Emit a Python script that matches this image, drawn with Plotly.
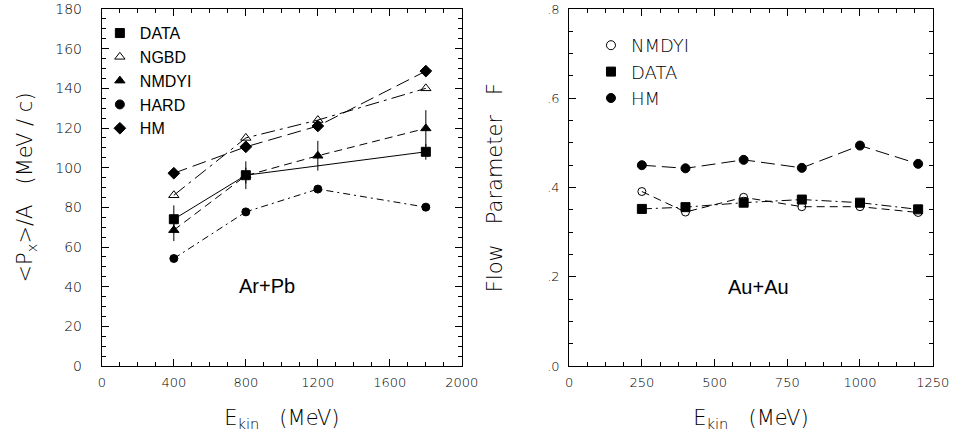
import plotly.graph_objects as go

# ---- Left panel (Ar+Pb) data ----
e_left = [400, 800, 1200, 1800]
data_e = [400, 800, 1800]
data_px = [74.0, 96.2, 108.0]
data_err = [7.0, 7.0, 4.0]
ngbd_px = [86.1, 115.0, 124.0, 140.0]
nmdyi_px = [68.5, 96.0, 106.0, 119.8]
nmdyi_err = [5.5, 4.0, 7.5, 9.2]
hard_px = [54.2, 77.7, 89.2, 80.1]
hm_px = [97.2, 110.5, 121.0, 148.7]

# ---- Right panel (Au+Au) data ----
e_right = [250, 400, 600, 800, 1000, 1200]
nmdyi_f = [0.391, 0.345, 0.378, 0.357, 0.357, 0.344]
data_f = [0.352, 0.356, 0.366, 0.373, 0.366, 0.351]
hm_f = [0.450, 0.443, 0.462, 0.444, 0.494, 0.453]

left_x_ticks = [0, 400, 800, 1200, 1600, 2000]
left_y_ticks = [0, 20, 40, 60, 80, 100, 120, 140, 160, 180]
right_x_ticks = [0, 250, 500, 750, 1000, 1250]
right_y_ticks = [0.0, 0.2, 0.4, 0.6, 0.8]
right_y_text = [".0", ".2", ".4", ".6", ".8"]

FONT = "Liberation Sans, Arial, sans-serif"
THIN = "DejaVu Sans, sans-serif"
K = "black"
fig = go.Figure()

def line_trace(x, y, dash, symbol, xa, ya, err=None, size=8, lw=1):
    tr = go.Scatter(
        x=x, y=y, mode="lines+markers", xaxis=xa, yaxis=ya, showlegend=False,
        line=dict(color=K, width=lw, dash=dash),
        marker=dict(symbol=symbol, size=size, color=K,
                    line=dict(color=K, width=1)),
        hoverinfo="skip",
    )
    if err is not None:
        tr.error_y = dict(type="data", array=err, visible=True, thickness=1,
                          width=0, color=K)
    return tr

# left panel lines
fig.add_trace(line_trace(e_left, hard_px, "7px,4px,2px,4px", "circle", "x", "y"))
fig.add_trace(line_trace(e_left, ngbd_px, "14px,5px,3px,5px", "triangle-up-open", "x", "y", size=9))
fig.add_trace(line_trace(e_left, hm_px, "14px,6px", "diamond", "x", "y", size=9))
fig.add_trace(line_trace(e_left, nmdyi_px, "8px,5px", "triangle-up", "x", "y", err=nmdyi_err, size=9))
fig.add_trace(line_trace(data_e, data_px, "solid", "square", "x", "y", err=data_err, size=9))

# right panel lines
fig.add_trace(line_trace(e_right, hm_f, "14px,6px", "circle", "x2", "y2", size=9))
fig.add_trace(line_trace(e_right, nmdyi_f, "8px,5px", "circle-open", "x2", "y2", size=8))
fig.add_trace(line_trace(e_right, data_f, "10px,4px,2px,4px", "square", "x2", "y2", size=9))

# legend-only traces (markers only)
def leg(name, symbol, legend, size=9):
    return go.Scatter(x=[None], y=[None], mode="markers", name=name, legend=legend,
                      marker=dict(symbol=symbol, size=size, color=K, line=dict(color=K, width=1)))

for nm, sym in [("DATA", "square"), ("NGBD", "triangle-up-open"), ("NMDYI", "triangle-up"),
                ("HARD", "circle"), ("HM", "diamond")]:
    fig.add_trace(leg(nm, sym, "legend"))
for nm, sym in [("NMDYI", "circle-open"), ("DATA", "square"), ("HM", "circle")]:
    fig.add_trace(leg(nm, sym, "legend2"))

def axis(tsize, **kw):
    d = dict(showline=True, linecolor=K, linewidth=1, mirror="allticks",
             ticks="inside", ticklen=7, tickcolor=K, showgrid=False, zeroline=False,
             ticklabeloverflow="allow",
             tickfont=dict(family=THIN, size=tsize, color=K, weight=200))
    d.update(kw)
    return d

TITLE_FONT = dict(family=THIN, size=21, color=K, weight=200)
H = 434
top, bot = 9, 366
fig.update_layout(
    width=967, height=H,
    margin=dict(l=0, r=0, t=top, b=H - bot),
    paper_bgcolor="white", plot_bgcolor="white",
    font=dict(family=FONT, color=K),
    xaxis=axis(13, domain=[100/967, 468/967], range=[0, 2000], tickvals=left_x_ticks,
               minor=dict(dtick=100, ticks="inside", ticklen=4, tickcolor=K),
               ticklabelstandoff=4,
               title=dict(text="E<sub>kin</sub>   (MeV)", font=TITLE_FONT, standoff=21),
               anchor="y"),
    yaxis=axis(14, domain=[0, 1], range=[0, 180], tickvals=left_y_ticks,
               minor=dict(dtick=5, ticks="inside", ticklen=4, tickcolor=K),
               ticklabelstandoff=16,
               title=dict(text="&lt;P<sub>x</sub>&gt;/A   (MeV / c)", font=TITLE_FONT, standoff=16),
               anchor="x"),
    xaxis2=axis(13, domain=[577.7/967, 949.3/967], range=[0, 1250], tickvals=right_x_ticks,
                minor=dict(dtick=62.5, ticks="inside", ticklen=4, tickcolor=K),
                ticklabelstandoff=4,
                title=dict(text="E<sub>kin</sub>   (MeV)", font=TITLE_FONT, standoff=21),
                anchor="y2"),
    yaxis2=axis(13, domain=[0, 1], range=[0, 0.8], tickvals=right_y_ticks, ticktext=right_y_text,
                minor=dict(dtick=0.05, ticks="inside", ticklen=4, tickcolor=K),
                ticklabelstandoff=6,
                title=dict(text="Flow   Parameter   F", font=TITLE_FONT, standoff=38),
                anchor="x2"),
    legend=dict(x=98/967, y=0.980, xanchor="left", yanchor="top",
                bgcolor="rgba(0,0,0,0)", font=dict(family=FONT, size=16, color=K),
                tracegroupgap=0, itemwidth=30),
    legend2=dict(x=600/967, y=0.9496, xanchor="left", yanchor="top",
                 bgcolor="rgba(0,0,0,0)", font=dict(family=THIN, size=18, color=K, weight=200),
                 tracegroupgap=0, itemwidth=30),
    annotations=[
        dict(x=918, y=40.3, xref="x", yref="y", text="Ar+Pb", showarrow=False,
             font=dict(family=FONT, size=20, color=K)),
        dict(x=650, y=0.177, xref="x2", yref="y2", text="Au+Au", showarrow=False,
             font=dict(family=FONT, size=20, color=K)),
    ],
)

fig.write_html("out.html", config={"displayModeBar": False},
               post_script="document.body.style.margin='0';")
